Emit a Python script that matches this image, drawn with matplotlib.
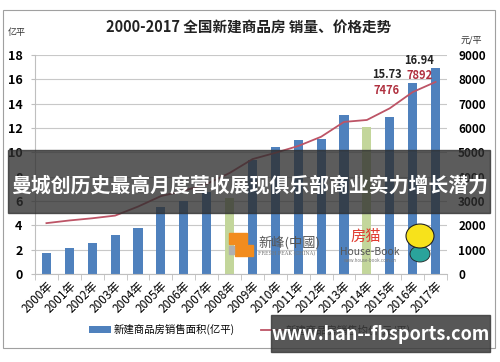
import numpy as np
import matplotlib
matplotlib.use("Agg")
import matplotlib.pyplot as plt
from matplotlib.patches import Rectangle, Ellipse

plt.rcParams['font.family'] = ['Noto Sans CJK SC', 'DejaVu Sans']

# === DATA ===
YEARS = [f"{y}年" for y in range(2000, 2018)]
AREA = [1.70, 2.14, 2.52, 3.20, 3.80, 5.53, 6.02, 6.74, 6.25, 9.37,
        10.46, 11.00, 11.10, 13.07, 12.05, 12.88, 15.73, 16.94]
PRICE = [2090, 2200, 2290, 2400, 2770, 3200, 3420, 3700, 4150, 4720,
         4980, 5260, 5640, 6250, 6330, 6810, 7476, 7892]
GREEN_YEARS = [8, 14]

BLUE = '#4f81bd'
GREEN = '#c3d69b'
LINE_RED = '#bd5466'
LABEL_RED = '#b0303f'
W, H = 500, 362


def fx(px):
    return px / W


def fy(py):
    return 1 - py / H


fig = plt.figure(figsize=(5, 3.62), dpi=100)
fig.patch.set_facecolor('white')

# outer chart frame
fig.patches.append(Rectangle((fx(3), fy(348)), fx(492), (348 - 10) / H,
                             transform=fig.transFigure, fill=False,
                             edgecolor='#a0a0a0', lw=0.8))

ax = fig.add_axes([fx(35), fy(274), fx(447 - 35), (274 - 55) / H])
x = np.arange(len(YEARS))
colors = [GREEN if i in GREEN_YEARS else BLUE for i in x]
bars = ax.bar(x, AREA, width=0.4, color=colors, zorder=2)

ax.set_xlim(-0.5, len(YEARS) - 0.5)
ax.set_ylim(0, 18)
ax.set_yticks(np.arange(0, 19, 2))
ax.tick_params(axis='y', length=3, color='#bfbfbf', labelsize=9, pad=6)
for t in ax.get_yticklabels():
    t.set_fontweight('bold')
ax.set_xticks(x)
ax.set_xticklabels(YEARS, rotation=45, ha='right', rotation_mode='anchor',
                   fontsize=8.5)
ax.tick_params(axis='x', which='major', length=0, pad=4)
ax.set_xticks(np.arange(-0.5, len(YEARS), 1), minor=True)
ax.tick_params(axis='x', which='minor', length=4, color='#bfbfbf')
ax.yaxis.grid(True, color='#c8c8c8', lw=0.8, zorder=0)
ax.set_axisbelow(True)
for s in ['top', 'right']:
    ax.spines[s].set_visible(False)
ax.spines['left'].set_color('#bfbfbf')
ax.spines['bottom'].set_color('#bfbfbf')

ax2 = ax.twinx()
line, = ax2.plot(x, PRICE, color=LINE_RED, lw=1.3, zorder=3)
ax2.set_ylim(0, 9000)
ax2.set_yticks(np.arange(0, 9001, 1000))
ax2.tick_params(axis='y', length=0, labelsize=8.5, pad=8)
for t in ax2.get_yticklabels():
    t.set_fontweight('bold')
for s in ['top', 'right', 'left', 'bottom']:
    ax2.spines[s].set_visible(False)

# value labels for the last two years
ax2.text(x[-2] - 1.13, AREA[-2] * 500 + 350, f"{AREA[-2]:.2f}", ha='center',
         va='center', fontsize=8, fontweight='bold', color='#222222', zorder=5)
ax2.text(x[-2] - 1.13, PRICE[-2] + 45, f"{PRICE[-2]}", ha='center',
         va='center', fontsize=8, fontweight='bold', color=LABEL_RED, zorder=5)
ax2.text(x[-1] - 0.7, AREA[-1] * 500 + 320, f"{AREA[-1]:.2f}", ha='center',
         va='center', fontsize=8, fontweight='bold', color='#222222', zorder=5)
ax2.text(x[-1] - 0.7, PRICE[-1] + 250, f"{PRICE[-1]}", ha='center',
         va='center', fontsize=8, fontweight='bold', color=LABEL_RED, zorder=5)

# titles and units
fig.text(fx(249), fy(28), "2000-2017 全国新建商品房 销量、价格走势",
         ha='center', va='center', fontsize=10.5, fontweight='bold',
         color='#222222')
fig.text(fx(8), fy(33), "亿平", ha='left', va='center', fontsize=6.5,
         color='#333333')
fig.text(fx(461), fy(40), "元/平", ha='left', va='center', fontsize=6.5,
         color='#333333')

# legend
fig.legend([bars, line], ["新建商品房销售面积(亿平)", "新建商品房销售均价(元/平)"],
           loc='center', bbox_to_anchor=(fx(250), fy(330)), ncol=2,
           frameon=False, fontsize=7.5, handlelength=2.1, handleheight=0.6,
           columnspacing=2.6, handletextpad=0.2)

# logos (approximate)
fig.patches.append(Rectangle((fx(229), fy(244)), fx(18), 11 / H,
                             transform=fig.transFigure, color='#f28c1e', zorder=6))
fig.patches.append(Rectangle((fx(235), fy(256)), fx(18), 11 / H,
                             transform=fig.transFigure, color='#f28c1e', zorder=6))
fig.patches.append(Rectangle((fx(229), fy(254)), fx(5), 8 / H,
                             transform=fig.transFigure, color='#b0b0b0', zorder=6))
fig.text(fx(258), fy(243), "新峰(中國)", ha='left', va='center', fontsize=9.5,
         color='#555555', zorder=7)
fig.text(fx(258), fy(254), "FRESH PEAK (CHINA)", ha='left', va='center',
         fontsize=3.5, color='#777777', family='DejaVu Serif', zorder=7)
fig.text(fx(366), fy(236), "房猫", ha='center', va='center', fontsize=11,
         color='#e03c31', zorder=7)
fig.text(fx(370), fy(252), "House-Book", ha='center', va='center', fontsize=7.5,
         color='#555555', zorder=7)
fig.text(fx(370), fy(261), "www.house-book.com.cn", ha='center', va='center',
         fontsize=3.2, color='#777777', zorder=7)
fig.patches.append(Ellipse((fx(420), fy(236)), fx(28), 24 / H,
                           transform=fig.transFigure, facecolor='#f7e21b',
                           edgecolor='#222222', lw=0.8, zorder=6))
fig.patches.append(Ellipse((fx(420), fy(254)), fx(20), 16 / H,
                           transform=fig.transFigure, facecolor='#2aa39b',
                           edgecolor='#222222', lw=0.6, zorder=5))

# dark banner with headline
fig.patches.append(Rectangle((fx(8), fy(213)), fx(490 - 8), (213 - 150) / H,
                             transform=fig.transFigure, color='#2e2e2e',
                             alpha=0.78, zorder=10))
fig.text(fx(250), fy(185), "曼城创历史最高月度营收展现俱乐部商业实力增长潜力",
         ha='center', va='center', fontsize=14.3, fontweight='bold',
         color='white', zorder=11)

# watermark box
fig.patches.append(Rectangle((fx(271), fy(352)), fx(490 - 271), (352 - 315) / H,
                             transform=fig.transFigure, color='#3a3a3a',
                             alpha=0.85, zorder=10))
fig.text(fx(381), fy(335), "www.han--fbsports.com", ha='center', va='center',
         fontsize=13, fontweight='bold', color='white', zorder=11)

fig.savefig("out.png", dpi=100, facecolor=fig.get_facecolor())
